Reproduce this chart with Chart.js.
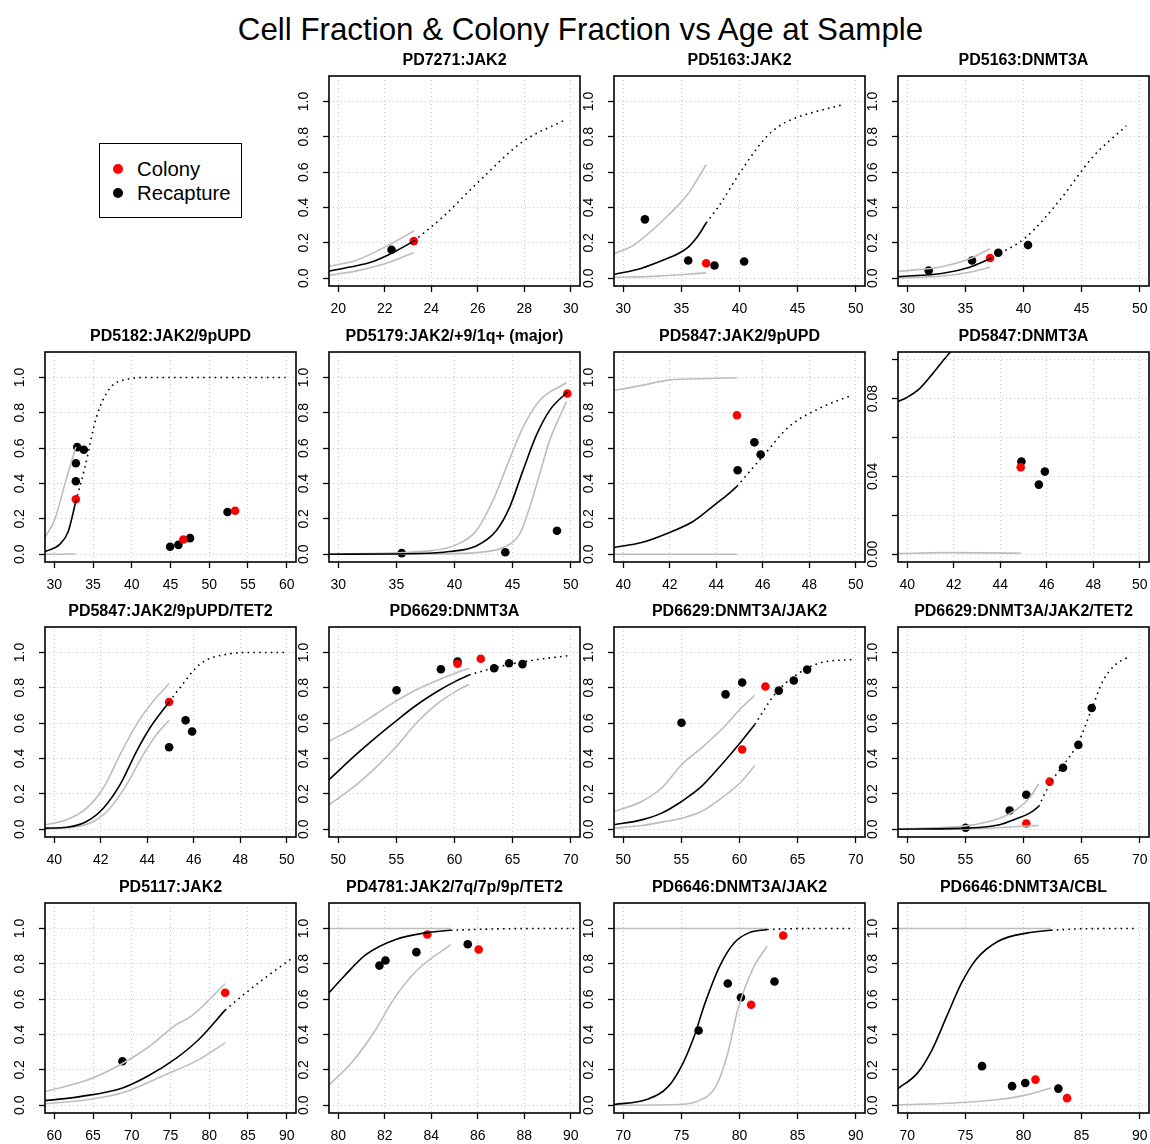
<!DOCTYPE html>
<html>
<head>
<meta charset="utf-8">
<script src="https://cdn.jsdelivr.net/npm/chart.js@4/dist/chart.umd.min.js"></script>
<style>
  html, body { margin: 0; padding: 0; background: #fff; }
  body { position: relative; width: 1150px; height: 1144px; overflow: hidden;
         font-family: "Liberation Sans", Arial, Helvetica, sans-serif; color: #000; }
  #mainTitle { position: absolute; left: 0; top: 11px; width: 1161px; text-align: center;
               font-size: 31.3px; line-height: 38px; white-space: nowrap; }
  #legendBox { position: absolute; left: 99px; top: 143px; width: 143px; height: 75px;
               box-sizing: border-box; border: 1.5px solid #000; }
  .legDot { position: absolute; width: 10px; height: 10px; border-radius: 50%; }
  .legText { position: absolute; left: 137px; font-size: 20.3px; line-height: 24px; white-space: nowrap; }
  canvas.panel { position: absolute; }
</style>
</head>
<body>
<div id="mainTitle">Cell Fraction &amp; Colony Fraction vs Age at Sample</div>
<div id="legendBox"></div>
<div class="legDot" style="left:113px;top:164px;background:#ff0000"></div>
<div class="legText" style="top:157px">Colony</div>
<div class="legDot" style="left:113px;top:188px;background:#000"></div>
<div class="legText" style="top:181px">Recapture</div>

<script>
// ---- panel definitions ----
const panelTitles = [
  "PD7271:JAK2", "PD5163:JAK2", "PD5163:DNMT3A",
  "PD5182:JAK2/9pUPD", "PD5179:JAK2/+9/1q+ (major)", "PD5847:JAK2/9pUPD", "PD5847:DNMT3A",
  "PD5847:JAK2/9pUPD/TET2", "PD6629:DNMT3A", "PD6629:DNMT3A/JAK2", "PD6629:DNMT3A/JAK2/TET2",
  "PD5117:JAK2", "PD4781:JAK2/7q/7p/9p/TET2", "PD6646:DNMT3A/JAK2", "PD6646:DNMT3A/CBL"
];

const ageLimits = [
  [20, 30], [30, 50], [30, 50],
  [30, 60], [30, 50], [40, 50], [40, 50],
  [40, 50], [50, 70], [50, 70], [50, 70],
  [60, 90], [80, 90], [70, 90], [70, 90]
];

const ageTicks = [
  [20, 22, 24, 26, 28, 30], [30, 35, 40, 45, 50], [30, 35, 40, 45, 50],
  [30, 35, 40, 45, 50, 55, 60], [30, 35, 40, 45, 50], [40, 42, 44, 46, 48, 50], [40, 42, 44, 46, 48, 50],
  [40, 42, 44, 46, 48, 50], [50, 55, 60, 65, 70], [50, 55, 60, 65, 70], [50, 55, 60, 65, 70],
  [60, 65, 70, 75, 80, 85, 90], [80, 82, 84, 86, 88, 90], [70, 75, 80, 85, 90], [70, 75, 80, 85, 90]
];

const fracLimits = [
  [0, 1.1], [0, 1.1], [0, 1.1],
  [0, 1.1], [0, 1.1], [0, 1.1], [0, 0.1],
  [0, 1.1], [0, 1.1], [0, 1.1], [0, 1.1],
  [0, 1.1], [0, 1.1], [0, 1.1], [0, 1.1]
];

const fracTicksStd = [0, 0.2, 0.4, 0.6, 0.8, 1.0];
const fracLabelsStd = ["0.0", "0.2", "0.4", "0.6", "0.8", "1.0"];
const fracTicksFine = [0, 0.02, 0.04, 0.06, 0.08, 0.10];
const fracLabelsFine = ["0.00", "", "0.04", "", "0.08", ""];

// ---- observations: [age, fraction] ----
const colonyPts = [
  [[23.25, 0.21]],
  [[37.13, 0.085]],
  [[37.12, 0.114]],
  [[32.78, 0.311], [46.66, 0.083], [53.34, 0.246]],
  [[49.71, 0.909]],
  [[44.89, 0.786]],
  [[44.88, 0.0447]],
  [[44.94, 0.72]],
  [[60.26, 0.936], [62.26, 0.964]],
  [[60.23, 0.451], [62.23, 0.807]],
  [[60.24, 0.032], [62.25, 0.269]],
  [[82.05, 0.636]],
  [[83.83, 0.966], [86.04, 0.881]],
  [[81.0, 0.568], [83.76, 0.96]],
  [[81.03, 0.145], [83.75, 0.04]]
];

const recapturePts = [
  [[22.29, 0.161]],
  [[31.86, 0.333], [35.59, 0.100], [37.85, 0.072], [40.4, 0.095]],
  [[31.84, 0.044], [35.57, 0.1], [37.83, 0.144], [40.39, 0.1875]],
  [[32.96, 0.606], [33.81, 0.591], [32.78, 0.515], [32.78, 0.413],
   [44.95, 0.042], [46.02, 0.053], [47.52, 0.091], [52.36, 0.239]],
  [[35.46, 0.006], [44.37, 0.011], [48.82, 0.133]],
  [[45.64, 0.633], [45.91, 0.564], [44.92, 0.475]],
  [[44.91, 0.0477], [45.66, 0.0358], [45.92, 0.0425]],
  [[45.65, 0.616], [45.93, 0.553], [44.94, 0.464]],
  [[55.01, 0.786], [58.83, 0.905], [60.26, 0.949], [63.41, 0.911], [64.7, 0.939], [65.85, 0.934]],
  [[55.01, 0.602], [58.8, 0.763], [60.23, 0.83], [63.38, 0.784], [64.67, 0.841], [65.82, 0.903]],
  [[55.02, 0.008], [58.81, 0.106], [60.24, 0.195], [63.4, 0.348], [64.72, 0.477], [65.87, 0.686]],
  [[68.8, 0.249]],
  [[81.77, 0.79], [82.03, 0.819], [83.36, 0.866], [85.57, 0.911]],
  [[76.48, 0.423], [78.99, 0.689], [80.12, 0.609], [83.01, 0.7]],
  [[76.43, 0.221], [79.02, 0.108], [80.15, 0.126], [83.0, 0.094]]
];

// ---- fitted growth curve and its band ----
const fitCurve = [
  [[19.6, 0.04], [20.5, 0.063], [21.5, 0.095], [22.5, 0.155], [23.25, 0.21]],
  [[29.2, 0.021], [31.58, 0.057], [33.72, 0.11], [34.58, 0.134], [35.59, 0.176], [36.45, 0.242], [37.13, 0.3125]],
  [[29.2, 0.009], [33.07, 0.028], [35.37, 0.0625], [37.12, 0.11]],
  [[28.8, 0.015], [30.73, 0.057], [31.8, 0.129], [32.78, 0.3]],
  [[29.2, 0.0], [37.0, 0.004], [39.57, 0.015], [41.87, 0.047], [43.59, 0.133], [44.74, 0.265],
   [45.89, 0.473], [47.04, 0.672], [48.19, 0.814], [49.71, 0.918]],
  [[39.6, 0.038], [40.79, 0.066], [41.94, 0.12], [43.0, 0.185], [43.53, 0.237], [43.96, 0.282], [44.53, 0.341], [44.89, 0.384]],
  [[39.6, 0.0785], [39.96, 0.0805], [40.53, 0.0852], [41.1, 0.093], [41.76, 0.1027], [42.5, 0.112], [43.5, 0.125], [44.9, 0.145]],
  [[39.6, 0.006], [40.53, 0.011], [41.39, 0.044], [42.11, 0.119], [42.83, 0.252], [43.54, 0.441], [44.12, 0.574], [44.94, 0.72]],
  [[49.2, 0.28], [51.52, 0.422], [53.24, 0.52], [54.96, 0.612], [56.68, 0.7], [58.4, 0.775], [60.11, 0.838], [61.26, 0.873]],
  [[49.2, 0.025], [51.58, 0.053], [53.3, 0.091], [55.01, 0.157], [56.73, 0.242], [58.45, 0.365], [60.17, 0.498], [61.32, 0.593]],
  [[49.2, 0.0], [55.02, 0.006], [57.95, 0.025], [59.38, 0.059], [60.53, 0.091], [61.31, 0.129]],
  [[58.8, 0.026], [63.5, 0.05], [68.8, 0.098], [72.03, 0.164], [75.8, 0.268], [78.65, 0.372], [82.05, 0.538]],
  [[79.6, 0.636], [80.25, 0.73], [81.2, 0.853], [82.47, 0.938], [83.74, 0.975], [84.84, 0.99]],
  [[69.2, 0.004], [72.0, 0.032], [73.9, 0.108], [75.15, 0.24], [76.1, 0.39], [77.04, 0.579],
   [78.3, 0.787], [79.55, 0.919], [80.8, 0.975], [82.38, 0.994]],
  [[69.2, 0.094], [70.89, 0.183], [72.14, 0.315], [73.4, 0.504], [74.67, 0.692], [75.92, 0.825],
   [77.82, 0.928], [80.34, 0.975], [82.36, 0.99]]
];

const upperBand = [
  [[19.6, 0.068], [20.75, 0.1], [22.2, 0.19], [23.25, 0.267]],
  [[29.2, 0.138], [30.86, 0.186], [33.87, 0.356], [35.59, 0.479], [37.13, 0.642]],
  [[29.2, 0.038], [33.07, 0.066], [35.37, 0.11], [37.12, 0.167]],
  [[28.8, 0.095], [30.09, 0.2], [31.37, 0.398], [32.78, 0.606]],
  [[29.2, 0.0], [37.84, 0.019], [40.14, 0.053], [41.87, 0.133], [43.3, 0.303], [44.45, 0.49],
   [45.89, 0.718], [47.33, 0.87], [49.63, 0.97]],
  [[39.6, 0.926], [40.79, 0.955], [41.94, 0.985], [43.7, 0.994], [44.89, 0.998]],
  [],
  [[39.6, 0.025], [40.53, 0.053], [41.39, 0.119], [42.11, 0.233], [42.83, 0.422], [43.54, 0.593], [44.26, 0.725], [44.94, 0.824]],
  [[49.2, 0.498], [51.52, 0.578], [53.24, 0.652], [54.96, 0.725], [56.68, 0.788], [58.4, 0.839], [60.11, 0.884], [61.26, 0.911]],
  [[49.2, 0.1], [51.58, 0.157], [53.3, 0.233], [55.01, 0.365], [56.73, 0.46], [58.45, 0.564], [60.17, 0.687], [61.32, 0.758]],
  [[49.2, 0.002], [55.02, 0.019], [57.95, 0.062], [59.38, 0.11], [60.53, 0.178], [61.31, 0.256]],
  [[58.97, 0.079], [64.45, 0.145], [68.8, 0.236], [72.03, 0.325], [75.8, 0.457], [77.7, 0.504], [82.05, 0.687]],
  [[79.6, 1.0], [84.84, 1.0]],
  [[69.2, 1.0], [82.38, 1.0]],
  [[69.2, 1.0], [82.36, 1.0]]
];

const lowerBand = [
  [[19.6, 0.017], [20.75, 0.04], [22.2, 0.09], [23.25, 0.146]],
  [[29.2, 0.005], [33.0, 0.012], [37.13, 0.03]],
  [[29.2, 0.002], [33.07, 0.013], [35.37, 0.034], [37.12, 0.0625]],
  [[28.8, 0.0], [32.78, 0.001]],
  [[29.2, 0.0], [39.0, 0.002], [41.87, 0.009], [44.17, 0.038], [45.6, 0.114], [46.47, 0.265],
   [47.33, 0.454], [48.19, 0.644], [49.63, 0.862]],
  [[39.6, 0.0], [44.89, 0.0]],
  [[39.6, 0.0003], [41.5, 0.0008], [43.5, 0.0007], [44.9, 0.0005]],
  [[39.6, 0.002], [40.82, 0.011], [41.68, 0.044], [42.4, 0.119], [43.11, 0.252], [43.83, 0.422], [44.4, 0.536], [44.94, 0.616]],
  [[49.2, 0.138], [51.52, 0.25], [53.24, 0.35], [54.96, 0.465], [56.68, 0.598], [58.4, 0.704], [60.11, 0.78], [61.26, 0.82]],
  [[49.2, 0.006], [51.58, 0.021], [53.3, 0.04], [55.01, 0.062], [56.73, 0.1], [58.45, 0.176], [60.17, 0.27], [61.32, 0.36]],
  [[49.2, 0.0], [55.02, 0.002], [61.31, 0.021]],
  [[58.97, 0.008], [64.45, 0.032], [68.8, 0.07], [73.9, 0.164], [78.65, 0.258], [82.05, 0.353]],
  [[79.62, 0.117], [80.57, 0.24], [81.52, 0.41], [82.47, 0.617], [83.42, 0.768], [84.84, 0.909]],
  [[69.2, 0.0], [74.5, 0.004], [76.4, 0.023], [77.98, 0.108], [78.92, 0.277], [79.86, 0.542], [81.12, 0.768], [82.38, 0.9]],
  [[69.2, 0.002], [74.03, 0.013], [77.82, 0.032], [80.34, 0.06], [82.36, 0.098]]
];

// ---- projected continuation of the fit ----
const projection = [
  [[23.25, 0.21], [24.5, 0.347], [26.03, 0.545], [27.94, 0.773], [29.7, 0.892]],
  [[37.13, 0.3125], [38.17, 0.403], [40.0, 0.593], [42.18, 0.79], [43.4, 0.86], [44.76, 0.905], [48.77, 0.98]],
  [[37.12, 0.11], [40.24, 0.233], [43.11, 0.441], [45.98, 0.6875], [48.85, 0.862]],
  [[32.78, 0.3], [33.94, 0.49], [35.44, 0.776], [37.15, 0.9375], [39.3, 0.989], [42.3, 1.0], [59.85, 1.0]],
  [],
  [[44.89, 0.384], [45.97, 0.549], [47.12, 0.72], [48.56, 0.833], [49.86, 0.9]],
  [],
  [[44.94, 0.72], [45.41, 0.801], [46.27, 0.934], [47.42, 0.99], [48.57, 1.0], [50.0, 1.0]],
  [[61.26, 0.873], [63.55, 0.915], [66.42, 0.953], [69.71, 0.981]],
  [[61.32, 0.593], [63.04, 0.763], [64.76, 0.867], [67.05, 0.943], [69.91, 0.96]],
  [[61.31, 0.129], [62.25, 0.255], [63.4, 0.36], [64.72, 0.49], [65.87, 0.68], [66.84, 0.84], [67.9, 0.93], [69.08, 0.975]],
  [[82.05, 0.538], [85.28, 0.655], [87.5, 0.73], [90.48, 0.825]],
  [[84.84, 0.99], [87.0, 0.998], [90.2, 1.0]],
  [[82.38, 0.994], [85.0, 0.999], [89.6, 1.0]],
  [[82.36, 0.99], [85.0, 0.998], [89.8, 1.0]]
];

// ---- page layout of the 4x4 grid (first slot holds the legend) ----
const colLefts = [45, 329, 614, 898];
const rowTops = [76, 352, 627, 903];
const LEFT_MARGIN = 45, TOP_MARGIN = 32, BOX_W = 251, BOX_H = 210, BOTTOM_MARGIN = 40, RIGHT_PAD = 7;
const CANVAS_W = LEFT_MARGIN + BOX_W + RIGHT_PAD;
const CANVAS_H = TOP_MARGIN + BOX_H + BOTTOM_MARGIN;
const FONT = '"Liberation Sans", Arial, Helvetica, sans-serif';

const toXY = pts => pts.map(p => ({ x: p[0], y: p[1] }));
const padded = (lim) => { const d = (lim[1] - lim[0]) * 0.04; return [lim[0] - d, lim[1] + d]; };

// frame, tick labels and panel title
const panelDecor = {
  id: 'panelDecor',
  afterDraw(chart, args, opts) {
    const { ctx, chartArea: a } = chart;
    const xs = chart.scales.x, ys = chart.scales.y;
    ctx.save();
    ctx.strokeStyle = '#000';
    ctx.lineWidth = 1.6;
    ctx.strokeRect(a.left, a.top, a.right - a.left, a.bottom - a.top);

    ctx.fillStyle = '#000';
    ctx.font = '14px ' + FONT;
    ctx.textAlign = 'center';
    ctx.textBaseline = 'middle';
    xs.ticks.forEach(t => {
      ctx.fillText(String(t.value), xs.getPixelForValue(t.value), a.bottom + 23.5);
    });
    ys.ticks.forEach((t, k) => {
      const lab = opts.yLabels[k];
      if (!lab) return;
      ctx.save();
      ctx.translate(a.left - 25, ys.getPixelForValue(t.value));
      ctx.rotate(-Math.PI / 2);
      ctx.fillText(lab, 0, 0);
      ctx.restore();
    });

    ctx.font = 'bold 16px ' + FONT;
    ctx.fillText(opts.title, (a.left + a.right) / 2, a.top - 15);
    ctx.restore();
  }
};

function lineSet(pts, color, order, dash) {
  return {
    data: toXY(pts), showLine: true, fill: false, borderColor: color, borderWidth: 1.6,
    borderDash: dash || [], pointRadius: 0, pointHoverRadius: 0,
    cubicInterpolationMode: 'monotone', order: order
  };
}

function pointSet(pts, color, order) {
  return {
    data: toXY(pts), showLine: false, pointRadius: 4.3, pointHoverRadius: 4.3,
    backgroundColor: color, borderWidth: 0, pointBorderWidth: 0, order: order
  };
}

panelTitles.forEach((title, i) => {
  const slot = i + 1;
  const row = Math.floor(slot / 4), col = slot % 4;
  const cv = document.createElement('canvas');
  cv.className = 'panel';
  cv.width = CANVAS_W; cv.height = CANVAS_H;
  cv.style.width = CANVAS_W + 'px'; cv.style.height = CANVAS_H + 'px';
  cv.style.left = (colLefts[col] - LEFT_MARGIN) + 'px';
  cv.style.top = (rowTops[row] - TOP_MARGIN) + 'px';
  document.body.appendChild(cv);

  const fine = fracLimits[i][1] < 0.5;
  const yTicks = fine ? fracTicksFine : fracTicksStd;
  const yLabels = fine ? fracLabelsFine : fracLabelsStd;
  const xr = padded(ageLimits[i]);
  const yr = padded(fracLimits[i]);

  const gridCommon = {
    color: '#c8c8c8', lineWidth: 1, drawTicks: true, tickLength: 6,
    tickColor: '#000', tickWidth: 1.3, tickBorderDash: []
  };

  new Chart(cv, {
    type: 'scatter',
    data: {
      datasets: [
        lineSet(fitCurve[i], '#000000', 0),
        lineSet(projection[i], '#000000', 1, [1.6, 4.2]),
        lineSet(upperBand[i], '#bdbdbd', 2),
        lineSet(lowerBand[i], '#bdbdbd', 3),
        pointSet(colonyPts[i], '#ff0000', 4),
        pointSet(recapturePts[i], '#000000', 5)
      ]
    },
    options: {
      responsive: false,
      animation: false,
      events: [],
      devicePixelRatio: 1,
      layout: { padding: { left: 0, top: TOP_MARGIN, right: RIGHT_PAD, bottom: 0 } },
      plugins: {
        legend: { display: false },
        tooltip: { enabled: false },
        title: { display: false },
        panelDecor: { title: title, yLabels: yLabels }
      },
      scales: {
        x: {
          type: 'linear', position: 'bottom', min: xr[0], max: xr[1],
          border: { display: false, dash: [1, 3] },
          grid: gridCommon,
          ticks: { display: false },
          afterBuildTicks: s => { s.ticks = ageTicks[i].map(v => ({ value: v })); },
          afterFit: s => { s.height = BOTTOM_MARGIN; }
        },
        y: {
          type: 'linear', position: 'left', min: yr[0], max: yr[1],
          border: { display: false, dash: [1, 3] },
          grid: gridCommon,
          ticks: { display: false },
          afterBuildTicks: s => { s.ticks = yTicks.map(v => ({ value: v })); },
          afterFit: s => { s.width = LEFT_MARGIN; }
        }
      }
    },
    plugins: [panelDecor]
  });
});
</script>
</body>
</html>
